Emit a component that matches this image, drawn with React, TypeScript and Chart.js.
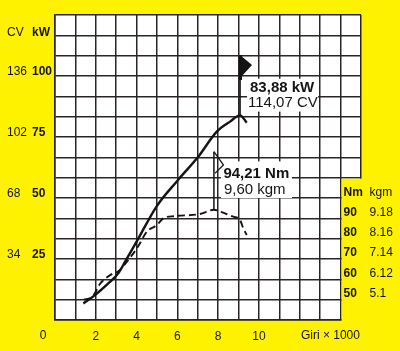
import React, { useEffect, useRef } from 'react';
import { Chart, registerables } from 'chart.js';

Chart.register(...registerables);

// ---- data ----
const rpmPower = [1.39, 1.96, 2.61, 3.1, 3.43, 4.0, 4.99, 5.99, 7.02, 7.93, 8.58, 9.07, 9.4];
const powerKw = [6.8, 10.2, 15.0, 19.1, 23.8, 32.1, 46.7, 57.0, 66.9, 77.2, 81.3, 83.88, 80.9];

const rpmTorque = [1.42, 1.81, 2.2, 2.84, 3.09, 3.43, 4.07, 4.5, 4.99, 5.31, 5.88, 7.1, 7.79, 8.1, 8.74, 9.07, 9.23, 9.4];
const torqueNm = [50.1, 51.1, 57.7, 62.9, 63.8, 67.5, 76.1, 83.4, 86.7, 90.0, 91.1, 92.1, 94.21, 93.3, 90.8, 89.2, 85.1, 81.8];

const xTickLabels = [2, 4, 6, 8, 10];
const kwTicks = [25, 50, 75, 100];
const cvTicks = ['34', '68', '102', '136'];
const nmTicks = [90, 80, 70, 60, 50];
const kgmTicks = ['9.18', '8.16', '7.14', '6.12', '5.1'];

const peakPower = { rpm: 9.07, kw: 83.88, label1: '83,88 kW', label2: '114,07 CV', flagTopKw: 108.6 };
const peakTorque = { rpm: 7.79, nm: 94.21, label1: '94,21 Nm', label2: '9,60 kgm', flagTopNm: 122.8 };

const YELLOW = '#fff200';
const INK = '#141414';
const GRID = '#2a2424';
const FONT = '"Liberation Sans", Arial, Helvetica, sans-serif';

const bgPlugin = {
  id: 'bgPlugin',
  beforeDraw(chart: any) {
    const { ctx, chartArea } = chart;
    ctx.save();
    ctx.fillStyle = '#ffffff';
    ctx.fillRect(chartArea.left, chartArea.top, chartArea.right - chartArea.left, chartArea.bottom - chartArea.top);
    ctx.restore();
  },
  beforeDatasetsDraw(chart: any) {
    // yellow block covering the lower right cells (torque table area)
    const { ctx, chartArea } = chart;
    const xs = chart.scales.x;
    const ys = chart.scales.y;
    const x0 = xs.getPixelForValue(14);
    const y0 = ys.getPixelForValue(7 * 125 / 15);
    ctx.save();
    ctx.fillStyle = YELLOW;
    ctx.fillRect(x0 + 1, y0 + 1, chartArea.right - x0 + 4, chartArea.bottom - y0 + 4);
    ctx.restore();
  },
};

const labelPlugin = {
  id: 'labelPlugin',
  afterDraw(chart: any) {
    const { ctx, chartArea } = chart;
    const xs = chart.scales.x;
    const ys = chart.scales.y;
    const yt = chart.scales.yT;
    ctx.save();
    ctx.fillStyle = INK;
    ctx.textBaseline = 'middle';
    ctx.textAlign = 'left';

    // left axis labels
    const cvX = chartArea.left - 48;
    const kwX = chartArea.left - 23;
    kwTicks.forEach((kw, i) => {
      const y = ys.getPixelForValue(kw) - 4;
      ctx.font = `12px ${FONT}`;
      ctx.fillText(cvTicks[i], cvX, y);
      ctx.font = `bold 12px ${FONT}`;
      ctx.fillText(String(kw), kwX, y);
    });
    const hy = ys.getPixelForValue(14 * 125 / 15) - 3;
    ctx.font = `12px ${FONT}`;
    ctx.fillText('CV', cvX, hy);
    ctx.font = `bold 12px ${FONT}`;
    ctx.fillText('kW', kwX, hy);

    // x-axis extra labels
    const by = chartArea.bottom + 16;
    ctx.font = `12px ${FONT}`;
    ctx.textAlign = 'center';
    ctx.fillText('0', xs.getPixelForValue(0) - 12, by);
    ctx.fillText('Giri × 1000', xs.getPixelForValue(13.5), by);

    // right torque table
    ctx.textAlign = 'left';
    const nmX = xs.getPixelForValue(14) + 3;
    const kgX = xs.getPixelForValue(14) + 29;
    const th = yt.getPixelForValue(100) - 5;
    ctx.font = `bold 12px ${FONT}`;
    ctx.fillText('Nm', nmX, th);
    ctx.font = `12px ${FONT}`;
    ctx.fillText('kgm', kgX, th);
    nmTicks.forEach((nm, i) => {
      const y = yt.getPixelForValue(nm) - 6;
      ctx.font = `bold 12px ${FONT}`;
      ctx.fillText(String(nm), nmX, y);
      ctx.font = `12px ${FONT}`;
      ctx.fillText(kgmTicks[i], kgX, y);
    });

    // ---- power peak annotation ----
    const px = xs.getPixelForValue(peakPower.rpm);
    const py = ys.getPixelForValue(peakPower.kw);
    const pTop = ys.getPixelForValue(peakPower.flagTopKw);
    const t1y = ys.getPixelForValue(95.2);
    const t2y = ys.getPixelForValue(89.1);
    ctx.fillStyle = '#ffffff';
    ctx.fillRect(px + 7, t1y - 9, 71, t2y - t1y + 18);
    ctx.strokeStyle = INK;
    ctx.lineWidth = 1.6;
    ctx.beginPath();
    ctx.moveTo(px, py);
    ctx.lineTo(px, pTop);
    ctx.stroke();
    ctx.lineWidth = 3;
    ctx.beginPath();
    ctx.moveTo(px + 0.5, pTop);
    ctx.lineTo(px + 0.5, pTop + 25);
    ctx.stroke();
    ctx.fillStyle = INK;
    ctx.beginPath();
    ctx.moveTo(px, pTop);
    ctx.lineTo(px + 12, pTop + 10);
    ctx.lineTo(px + 1, pTop + 22);
    ctx.closePath();
    ctx.fill();
    ctx.font = `bold 15px ${FONT}`;
    ctx.fillText(peakPower.label1, px + 10, t1y);
    ctx.font = `15px ${FONT}`;
    ctx.fillText(peakPower.label2, px + 8, t2y);

    // ---- torque peak annotation ----
    const qx = xs.getPixelForValue(peakTorque.rpm);
    const qy = yt.getPixelForValue(peakTorque.nm);
    const qTop = yt.getPixelForValue(peakTorque.flagTopNm);
    const u1y = yt.getPixelForValue(112.1);
    const u2y = yt.getPixelForValue(103.9);
    ctx.fillStyle = '#ffffff';
    ctx.fillRect(qx + 7, u1y - 12, 71, u2y - u1y + 20);
    ctx.strokeStyle = INK;
    ctx.lineWidth = 1.5;
    ctx.beginPath();
    ctx.moveTo(qx, qy);
    ctx.lineTo(qx, qTop);
    ctx.stroke();
    ctx.lineWidth = 1.3;
    ctx.beginPath();
    ctx.moveTo(qx, qTop);
    ctx.lineTo(qx + 9.5, qTop + 13.3);
    ctx.lineTo(qx + 1, qTop + 21.7);
    ctx.stroke();
    ctx.fillStyle = INK;
    ctx.font = `bold 15px ${FONT}`;
    ctx.fillText(peakTorque.label1, qx + 9.5, u1y);
    ctx.font = `15px ${FONT}`;
    ctx.fillText(peakTorque.label2, qx + 10, u2y);

    ctx.restore();
  },
};

export default function App() {
  const ref = useRef<HTMLCanvasElement | null>(null);

  useEffect(() => {
    if (!ref.current) return;
    const gridOpts = { color: GRID, lineWidth: 1.5, drawTicks: false };
    const chart = new Chart(ref.current, {
      type: 'line',
      data: {
        datasets: [
          {
            label: 'kW',
            data: rpmPower.map((x, i) => ({ x, y: powerKw[i] })),
            yAxisID: 'y',
            borderColor: INK,
            borderWidth: 2.4,
            pointRadius: 0,
            fill: false,
            cubicInterpolationMode: 'monotone',
          },
          {
            label: 'Nm',
            data: rpmTorque.map((x, i) => ({ x, y: torqueNm[i] })),
            yAxisID: 'yT',
            borderColor: INK,
            borderWidth: 1.9,
            borderDash: [7, 4],
            pointRadius: 0,
            fill: false,
            cubicInterpolationMode: 'monotone',
          },
        ],
      },
      options: {
        animation: false,
        responsive: false,
        devicePixelRatio: 1,
        layout: { padding: { left: 55, top: 15, right: 39, bottom: 0 } },
        plugins: { legend: { display: false }, tooltip: { enabled: false } },
        scales: {
          x: {
            type: 'linear',
            min: 0,
            max: 15,
            afterBuildTicks: (s: any) => {
              s.ticks = Array.from({ length: 16 }, (_, i) => ({ value: i }));
            },
            afterFit: (s: any) => {
              s.height = 31;
            },
            ticks: {
              autoSkip: false,
              maxRotation: 0,
              padding: 9,
              color: INK,
              font: { family: FONT, size: 12 },
              callback: (v: any) => (xTickLabels.includes(Number(v)) ? String(v) : ''),
            },
            grid: gridOpts,
            border: { color: GRID, width: 1.5 },
          },
          y: {
            type: 'linear',
            min: 0,
            max: 125,
            afterBuildTicks: (s: any) => {
              s.ticks = Array.from({ length: 16 }, (_, i) => ({ value: (i * 125) / 15 }));
            },
            afterFit: (s: any) => {
              s.width = 0;
            },
            ticks: { display: false },
            grid: gridOpts,
            border: { color: GRID, width: 1.5 },
          },
          yT: {
            type: 'linear',
            display: false,
            min: 40,
            max: 190,
          },
        },
      } as any,
      plugins: [bgPlugin, labelPlugin],
    });
    return () => chart.destroy();
  }, []);

  return (
    <div style={{ position: 'fixed', left: 0, top: 0, width: 400, height: 351, background: YELLOW }}>
      <canvas ref={ref} width={400} height={351} style={{ display: 'block' }} />
    </div>
  );
}
